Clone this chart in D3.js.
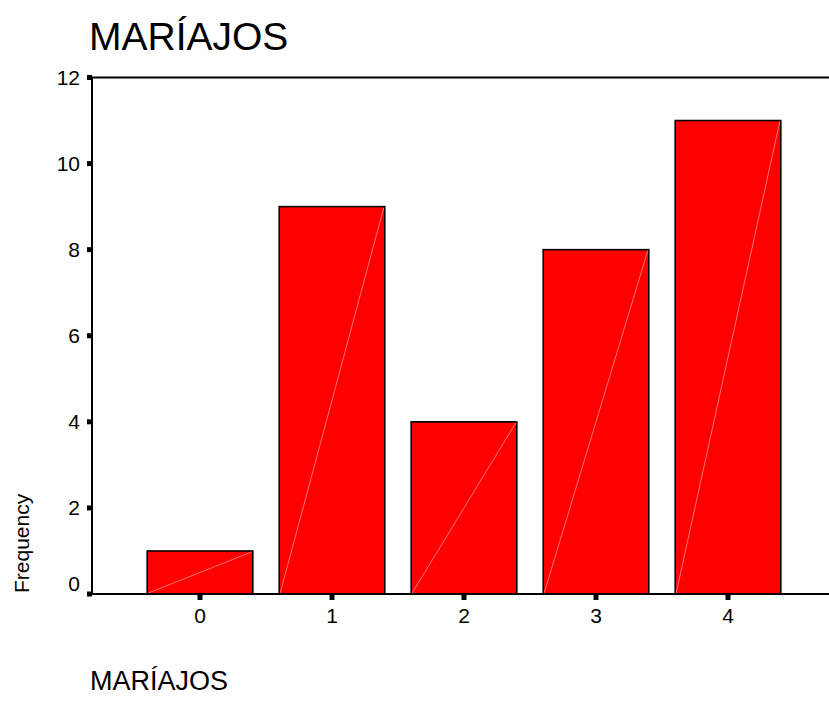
<!DOCTYPE html>
<html>
<head>
<meta charset="utf-8">
<script src="https://cdn.jsdelivr.net/npm/d3@7"></script>
<style>
  html, body { margin: 0; padding: 0; background: #fff; }
  svg { display: block; }
  text { font-family: "Liberation Sans", Arial, sans-serif; fill: #000; }
</style>
</head>
<body>
<script>
// Frequency of MARÍAJOS values
const categories = ["0", "1", "2", "3", "4"];
const frequencies = [1, 9, 4, 8, 11];
const yTicks = [0, 2, 4, 6, 8, 10, 12];
const titleText = "MARÍAJOS";
const xAxisTitle = "MARÍAJOS";
const yAxisTitle = "Frequency";

const W = 829, H = 702;

const svg = d3.select("body").append("svg")
  .attr("width", W).attr("height", H);

const plotLeft = 92, plotTop = 77.5, plotBottom = 594;

const x = d3.scaleBand()
  .domain(categories)
  .range([134, 794])
  .paddingInner(0.2)
  .paddingOuter(0.1);

const y = d3.scaleLinear()
  .domain([0, 12])
  .range([plotBottom, plotTop]);

// Title
svg.append("text")
  .attr("x", 89).attr("y", 50)
  .attr("font-size", 39)
  .text(titleText);

// Bars
const bars = svg.append("g");
bars.selectAll("rect")
  .data(frequencies)
  .join("rect")
  .attr("x", (d, i) => x(categories[i]))
  .attr("y", d => y(d))
  .attr("width", x.bandwidth())
  .attr("height", d => y(0) - y(d))
  .attr("fill", "#ff0000")
  .attr("stroke", "#000")
  .attr("stroke-width", 1.6);

// faint diagonal across each bar
bars.selectAll("line")
  .data(frequencies)
  .join("line")
  .attr("x1", (d, i) => x(categories[i]) + 1)
  .attr("y1", y(0) - 1)
  .attr("x2", (d, i) => x(categories[i]) + x.bandwidth() - 1)
  .attr("y2", d => y(d) + 1)
  .attr("stroke", "#ff9090")
  .attr("stroke-width", 0.8);

// Frame: top line, left axis, bottom axis
svg.append("line")
  .attr("x1", plotLeft).attr("x2", W + 5)
  .attr("y1", y(12)).attr("y2", y(12))
  .attr("stroke", "#000").attr("stroke-width", 2);
svg.append("line")
  .attr("x1", plotLeft).attr("x2", plotLeft)
  .attr("y1", y(12)).attr("y2", y(0))
  .attr("stroke", "#000").attr("stroke-width", 2);
svg.append("line")
  .attr("x1", plotLeft - 1).attr("x2", W + 5)
  .attr("y1", y(0)).attr("y2", y(0))
  .attr("stroke", "#000").attr("stroke-width", 2);

// Y ticks (small squares) and labels
const yt = svg.append("g");
yt.selectAll("rect")
  .data(yTicks)
  .join("rect")
  .attr("x", plotLeft - 5).attr("y", d => y(d) - 2.5)
  .attr("width", 5).attr("height", 5)
  .attr("fill", "#000");
yt.selectAll("text")
  .data(yTicks)
  .join("text")
  .attr("x", 80)
  .attr("y", d => y(d) + 7 - (d === 0 ? 10 : 0))
  .attr("text-anchor", "end")
  .attr("font-size", 21)
  .text(d => d);

// X ticks and labels
const xt = svg.append("g");
xt.selectAll("rect")
  .data(categories)
  .join("rect")
  .attr("x", d => x(d) + x.bandwidth() / 2 - 2.5)
  .attr("y", plotBottom + 1)
  .attr("width", 5).attr("height", 5)
  .attr("fill", "#000");
xt.selectAll("text")
  .data(categories)
  .join("text")
  .attr("x", d => x(d) + x.bandwidth() / 2)
  .attr("y", 623)
  .attr("text-anchor", "middle")
  .attr("font-size", 21)
  .text(d => d);

// Axis titles
svg.append("text")
  .attr("transform", "translate(29,593) rotate(-90)")
  .attr("font-size", 21)
  .text(yAxisTitle);

svg.append("text")
  .attr("x", 90).attr("y", 690)
  .attr("font-size", 27)
  .text(xAxisTitle);
</script>
</body>
</html>
